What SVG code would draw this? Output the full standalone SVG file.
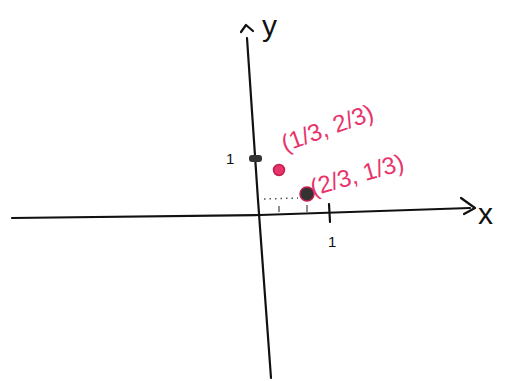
<svg xmlns="http://www.w3.org/2000/svg" width="518" height="381" viewBox="0 0 518 381">
<style>
.ax{stroke:#111;stroke-width:2.2;fill:none;stroke-linecap:round;stroke-linejoin:round}
.lbl{font-family:"Liberation Sans",sans-serif;fill:#111}
.pk{font-family:"Liberation Sans",sans-serif;fill:#e8336b}
</style>
<rect width="518" height="381" fill="#fff"/>
<g id="connectors">
<path id="y-axis" class="ax" d="M247 38 L258 200 L271 378"/>
<path id="x-axis" class="ax" d="M12 218 L260 215 L470 208"/>
<path id="y-arrow" class="ax" d="M241 32 L246 25 L253 31"/>
<path id="x-arrow" class="ax" d="M461 198 L475 208 L464 214"/>
<path id="dotted" d="M264 199 L298 198" stroke="#555" stroke-width="1.5" stroke-dasharray="1.5 4" fill="none"/>
<path d="M279 206 L279 212 M307 205 L307 212" stroke="#555" stroke-width="1.3" fill="none"/>
</g>
<g id="x-tick">
<path class="ax" d="M329 204 L330 222"/>
<text class="lbl" x="328" y="247" font-size="15">1</text>
</g>
<g id="y-tick">
<rect x="249" y="155" width="13" height="7" rx="3" fill="#333"/>
<text class="lbl" x="226" y="164" font-size="15">1</text>
</g>
<g id="y-label"><text class="lbl" x="262" y="36" font-size="30">y</text></g>
<g id="x-label"><text class="lbl" x="478" y="224" font-size="30">x</text></g>
<g id="point-a">
<circle cx="279" cy="170" r="5.5" fill="#e8336b" stroke="#c0204f" stroke-width="1.5"/>
<text class="pk" font-size="24" transform="translate(285 152) rotate(-20)">(1/3, 2/3)</text>
</g>
<g id="point-b">
<circle cx="307" cy="194" r="7" fill="#333" stroke="#c0204f" stroke-width="1.5"/>
<text class="pk" font-size="24" transform="translate(313 196) rotate(-16)">(2/3, 1/3)</text>
</g>
</svg>
